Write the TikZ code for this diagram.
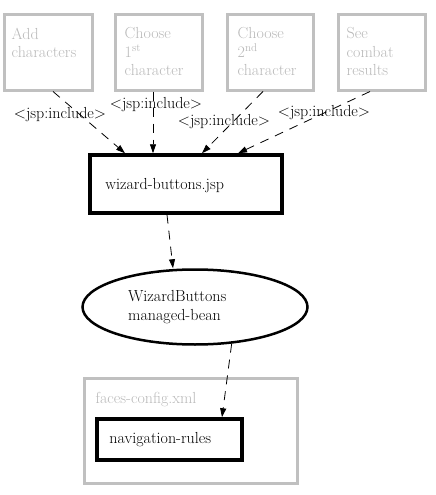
\documentclass[tikz,border=0pt]{standalone}
\usepackage{xcolor}
\usepackage{tikz}
\usetikzlibrary{arrows.meta,positioning,shapes}
\definecolor{pagegray}{RGB}{192,192,192}
\definecolor{pagetext}{RGB}{185,185,185}
\tikzset{
  % 全局字体
  every node/.append style={font=\fontsize{16}{18.5}\selectfont},
  % 灰色页面框
  page/.style={
    draw=pagegray,
    line width=3pt,
    minimum width=87pt,
    minimum height=75pt,
    inner sep=0pt
  },
  % 页面文字
  pagetxt/.style={anchor=north west, inner sep=0pt, align=left, text=pagetext},
  % 黑色粗框
  jspbox/.style={draw, line width=3.5pt, inner sep=0pt},
  % 虚线箭头
  inc/.style={-{Triangle[length=9pt,width=6pt]}, dash pattern=on 9pt off 7pt, line width=0.8pt},
}

\begin{document}
\begin{tikzpicture}[x=1pt, y=-1pt,
        lbl/.style={inner sep=0pt}
    ]
        \useasboundingbox (0,0) rectangle (436,495);

        % 顶部四个页面
        \node[page, minimum width=88pt] (add) at (48,52.5) {};
        \node[page] (first) at (158.5,52.5) {};
        \node[page, minimum width=86pt] (second) at (270,52.5) {};
        \node[page] (combat) at (381.5,52.5) {};
        \node[pagetxt] (addtxt) at ([xshift=9pt, yshift=-14pt]add.north west) {Add\\characters};
        \node[pagetxt] (firsttxt) at ([xshift=11pt, yshift=-14pt]first.north west) {Choose\\1\textsuperscript{st}\\character};
        \node[pagetxt] (secondtxt) at ([xshift=12pt, yshift=-14pt]second.north west) {Choose\\2\textsuperscript{nd}\\character};
        \node[pagetxt] (combattxt) at ([xshift=10pt, yshift=-14pt]combat.north west) {See\\combat\\results};

        % wizard-buttons.jsp
        \node[jspbox, minimum width=192pt, minimum height=58pt] (jsp) at (186,184) {};
        \node[anchor=west, inner sep=0pt] (jsptxt) at ([xshift=17pt, yshift=-2pt]jsp.west) {wizard-buttons.jsp};

        % managed-bean
        \node[draw, ellipse, line width=2.5pt, minimum width=225pt, minimum height=75pt, inner sep=0pt] (bean) at (195,307) {};
        \node[anchor=west, align=left, inner sep=0pt] (beantxt) at (128,307) {WizardButtons\\managed-bean};

        % faces-config.xml
        \node[draw=pagegray, line width=3pt, minimum width=213pt, minimum height=105pt, inner sep=0pt] (faces) at (190.5,430.5) {};
        \node[anchor=west, inner sep=0pt, text=pagetext] (facestxt) at ([xshift=13pt, yshift=31pt]faces.west) {faces-config.xml};
        \node[jspbox, minimum width=145pt, minimum height=41pt] (nav) at (169.5,439.5) {};
        \node[anchor=west, inner sep=0pt] (navtxt) at ([xshift=14pt]nav.west) {navigation-rules};

        % 箭头
        \draw[inc] ([xshift=5pt]add.south) -- ([xshift=-61pt]jsp.north);
        \draw[inc] ([xshift=-5.5pt]first.south) -- ([xshift=-33pt]jsp.north);
        \draw[inc] ([xshift=-7pt]second.south) -- ([xshift=16pt]jsp.north);
        \draw[inc] ([xshift=-11.5pt]combat.south) -- ([xshift=52pt]jsp.north);
        \draw[inc] ([xshift=-19pt]jsp.south) -- ([xshift=-22pt]bean.north);
        \draw[inc] (bean.-45) -- ([xshift=52.5pt]nav.north);

        % 标注
        \node[lbl] (inc1) at (60,115) {<jsp:include>};
        \node[lbl] (inc2) at (156,105) {<jsp:include>};
        \node[lbl] (inc3) at (224,122) {<jsp:include>};
        \node[lbl] (inc4) at (324,113) {<jsp:include>};
    \end{tikzpicture}
\end{document}
